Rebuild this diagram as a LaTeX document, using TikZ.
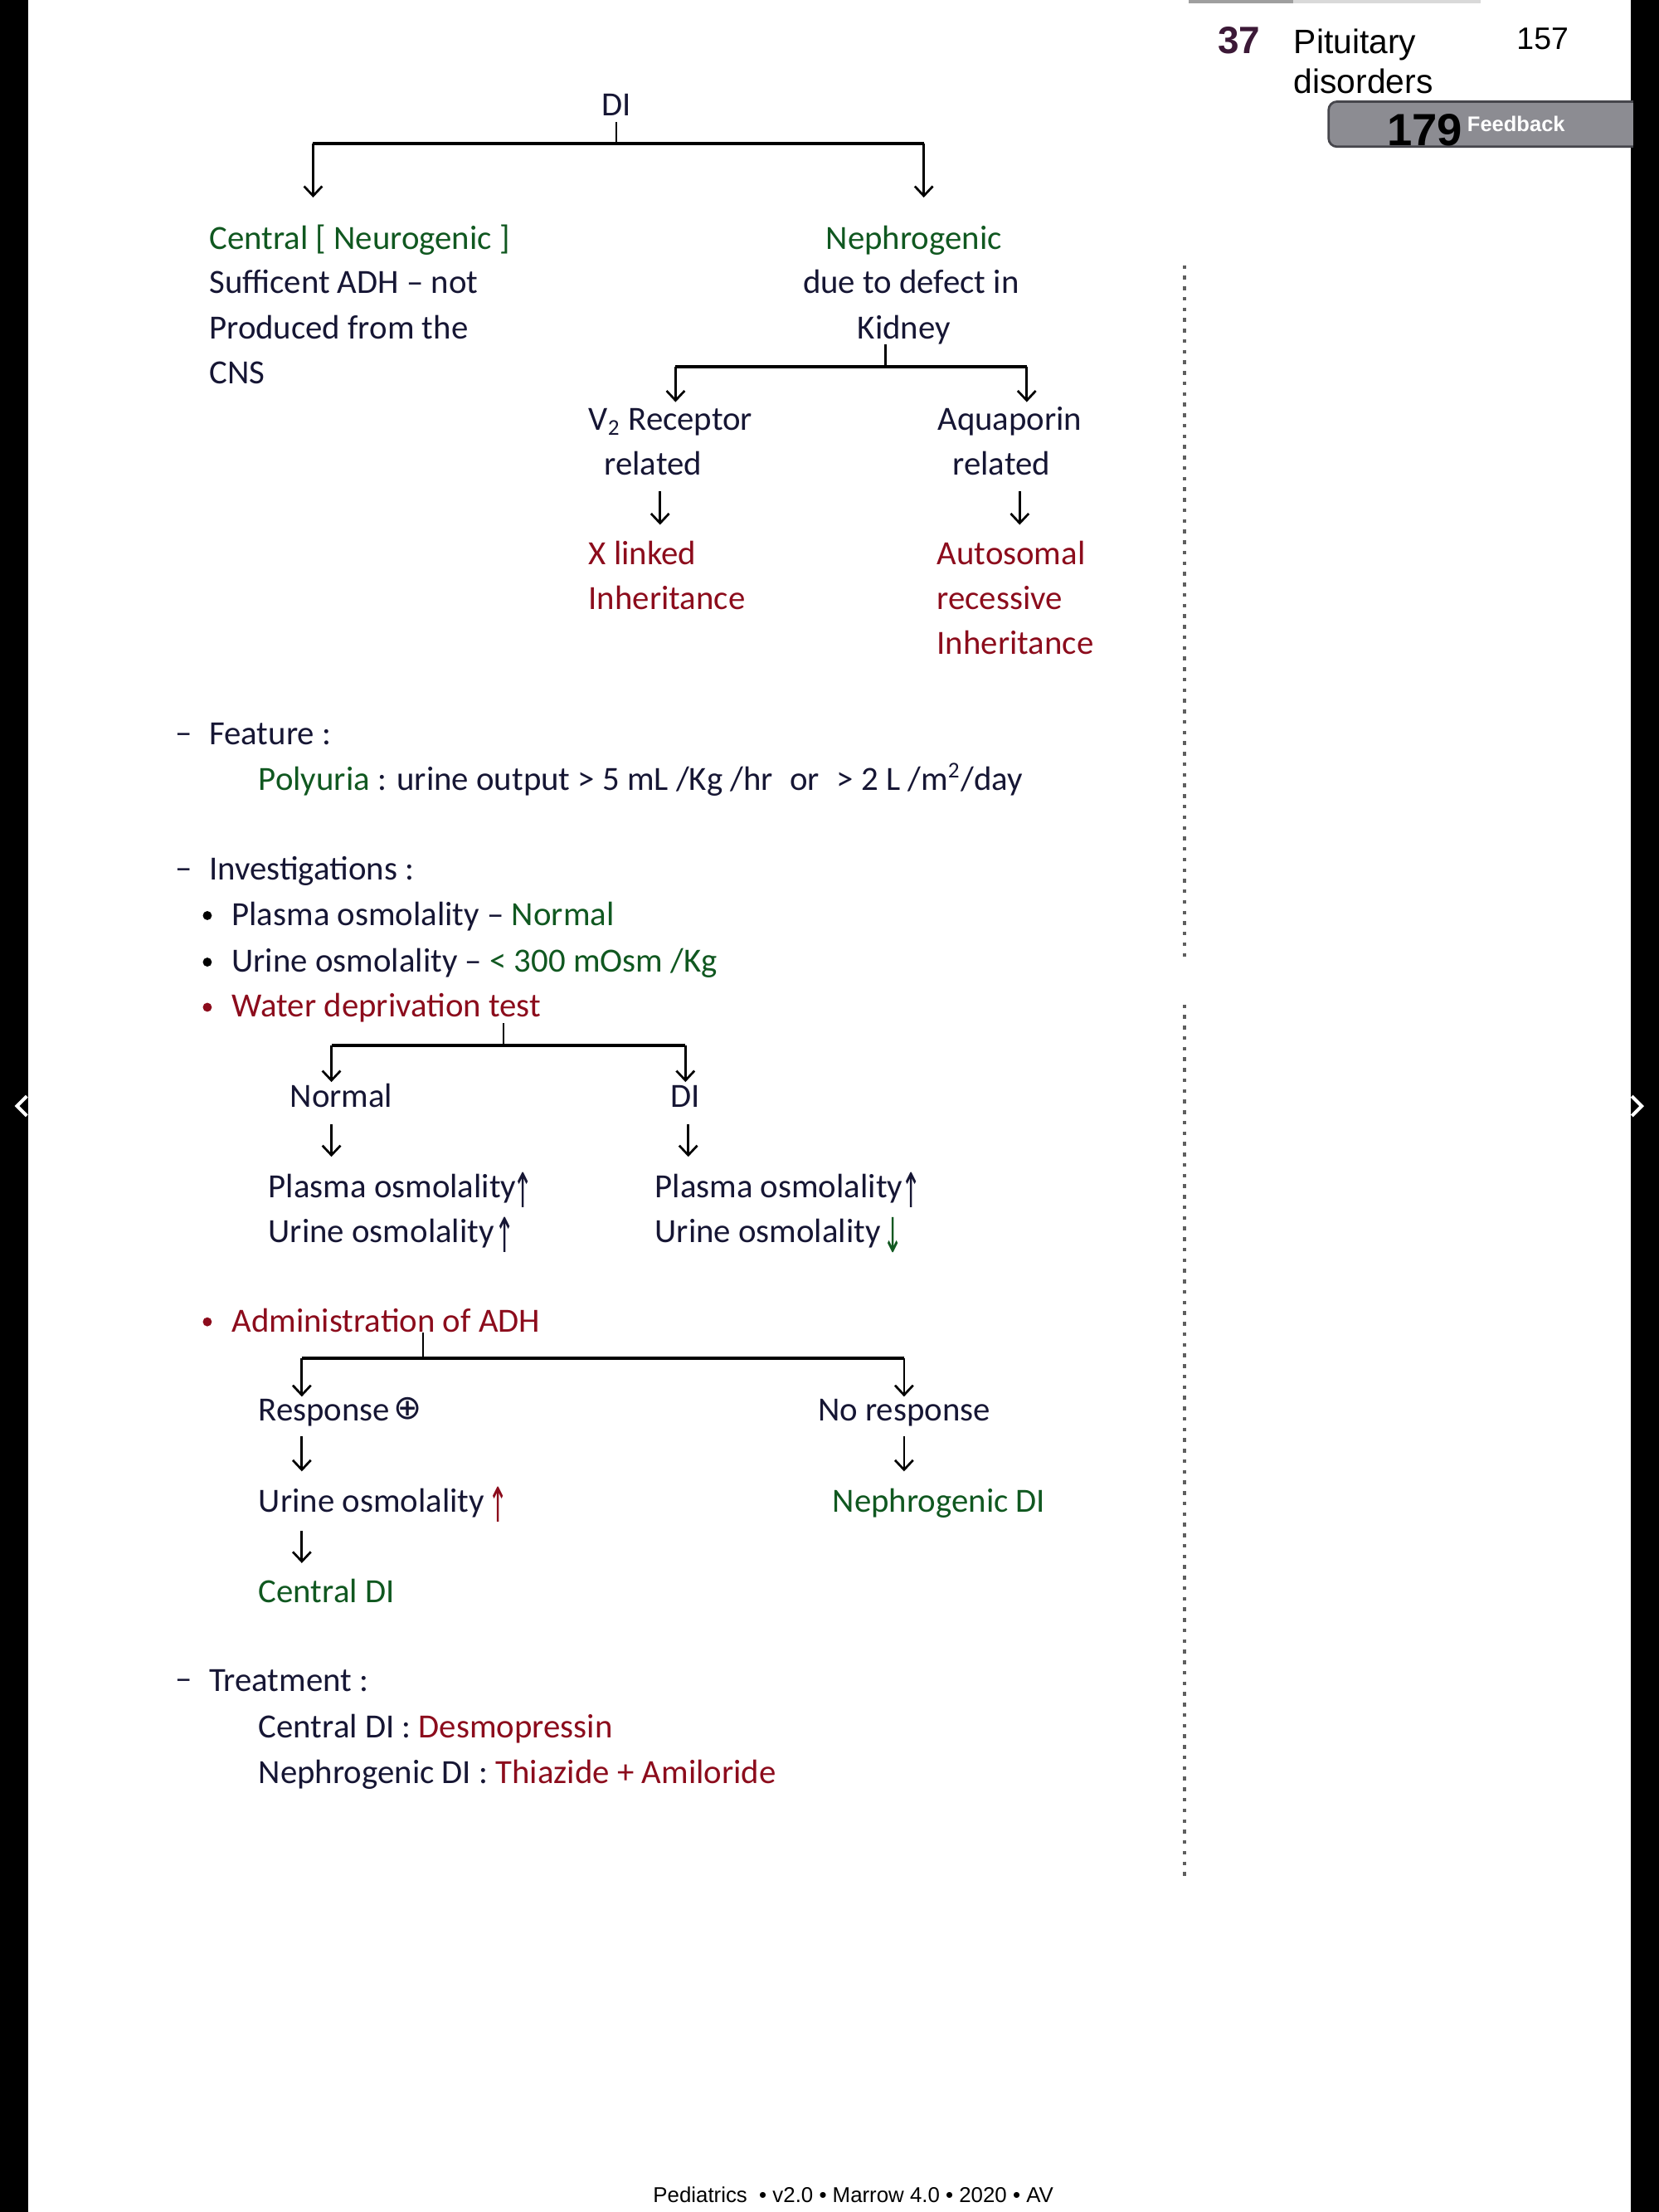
\documentclass[tikz,border=0pt]{standalone}
\usepackage{graphicx}
\usepackage{fontspec}
\setmainfont{Carlito}
\newfontfamily\arialf{Liberation Sans}
\newfontfamily\symf{DejaVu Sans}
\usetikzlibrary{arrows.meta}
\definecolor{ink}{RGB}{22,22,52}
\definecolor{dgrn}{RGB}{16,88,32}
\definecolor{dred}{RGB}{140,12,28}
\definecolor{c37}{RGB}{60,25,55}
\definecolor{fbgray}{RGB}{140,140,146}
\definecolor{fbdark}{RGB}{70,70,76}
\definecolor{dotgray}{RGB}{95,95,95}
\newcommand{\upar}{\scalebox{0.5}[1]{↑}}
\newcommand{\dnar}{\scalebox{0.5}[1]{↓}}
\begin{document}
\begin{tikzpicture}[x=0.5pt,y=-0.5pt,
  hw/.style={inner sep=0pt, font=\fontsize{12}{14}\selectfont, text=ink},
  lw/.style={hw, anchor=base west},
  cw/.style={hw, anchor=base},
  glyph/.style={inner sep=0pt, anchor=base, font=\symf\fontsize{17}{18}\selectfont, text=ink},
  barline/.style={draw=black, line width=1.15pt},
  stem/.style={draw=black, line width=0.8pt},
  arr/.style={draw=black, line width=0.8pt, -{Straight Barb[length=3.4pt,width=6.4pt]}},
  dotline/.style={draw=dotgray, line width=1.3pt, dash pattern=on 1.3pt off 2.45pt},
  hdr/.style={inner sep=0pt, anchor=base west},
]
\useasboundingbox (0,0) rectangle (1176,1568);
\fill[white] (0,0) rectangle (1176,1568);
% side strips
\fill[black] (0,0) rectangle (20,1568);
\fill[black] (1156.5,0) rectangle (1176,1568);
\draw[white, line width=1.2pt] (19,777) -- (12,784) -- (19,791);
\draw[white, line width=1.2pt] (1157,777) -- (1164,784) -- (1157,791);
% top thin bar
\fill[gray!75] (843,0) rectangle (917,2.5);
\fill[gray!30] (917,0) rectangle (1050,2.5);
% header
\node[hdr, font=\arialf\bfseries\fontsize{13.5}{15}\selectfont, text=c37] (ch) at (863,38) {37};
\node[hdr, font=\arialf\fontsize{12}{14}\selectfont] (pit1) at (917,38) {Pituitary};
\node[hdr, font=\arialf\fontsize{12}{14}\selectfont] (pit2) at (917,66) {disorders};
\node[hdr, font=\arialf\fontsize{11}{13}\selectfont] (pg) at (1075,35) {157};
\path[fill=fbgray, draw=fbdark, line width=0.8pt, rounded corners=3pt] (1158,72) -- (942,72) -- (942,104) -- (1158,104);
\node[hdr, font=\arialf\bfseries\fontsize{16}{18}\selectfont] (n179) at (983,103) {179};
\node[hdr, text=white, font=\arialf\bfseries\fontsize{7.5}{9}\selectfont] (fb) at (1040,93) {Feedback};
% dotted divider
\draw[dotline] (840,188) -- (840,678);
\draw[dotline] (840,712) -- (840,1330);

% ---------- DI tree ----------
\node[cw] (di) at (437,82) {DI};
\coordinate (t0) at (437,102);
\coordinate (tL) at (222,102);
\coordinate (tR) at (655,102);
\coordinate (tLe) at (222,140);
\coordinate (tRe) at (655,140);
\draw[stem] ([yshift=-2pt]di.south) -- (t0);
\draw[barline] (tL) -- (tR);
\draw[arr] (tL) -- (tLe);
\draw[arr] (tR) -- (tRe);

\node[lw, text=dgrn] (cen1) at (148,177) {Central [ Neurogenic ]};
\node[lw] (cen2) at (148,208) {Sufficent ADH – not};
\node[lw] (cen3) at (148,240) {Produced from the};
\node[lw] (cen4) at (148,272) {CNS};

\node[cw, text=dgrn] (nep1) at (648,177) {Nephrogenic};
\node[cw] (nep2) at (646,208) {due to defect in};
\node[cw] (nep3) at (641,240) {Kidney};
\coordinate (k0) at (628,260);
\coordinate (kL) at (479,260);
\coordinate (kR) at (728,260);
\coordinate (kLe) at (479,285);
\coordinate (kRe) at (728,285);
\draw[stem] (nep3.south -| k0) -- (k0);
\draw[barline] (kL) -- (kR);
\draw[arr] (kL) -- (kLe);
\draw[arr] (kR) -- (kRe);

\node[lw] (v2a) at (417,305) {V\textsubscript{2} Receptor};
\node[cw] (v2b) at (463,337) {related};
\node[cw] (aq1) at (716,305) {Aquaporin};
\node[cw] (aq2) at (710,337) {related};
\coordinate (va) at (468,372);
\coordinate (aa) at (723,372);
\draw[arr] (va |- 0,348) -- (va);
\draw[arr] (aa |- 0,348) -- (aa);

\node[lw, text=dred] (xl1) at (417,400) {X linked};
\node[lw, text=dred] (xl2) at (417,432) {Inheritance};
\node[lw, text=dred] (ar1) at (664,400) {Autosomal};
\node[lw, text=dred] (ar2) at (664,432) {recessive};
\node[lw, text=dred] (ar3) at (664,464) {Inheritance};

% ---------- Feature ----------
\node[lw] (dash1) at (124,527) {–};
\node[lw] (feat) at (148,528) {Feature :};
\node[lw] (poly) at (183,560) {\textcolor{dgrn}{Polyuria} : urine output > 5 mL /Kg /hr\enspace or\enspace > 2 L /m\textsuperscript{2}/day};

% ---------- Investigations ----------
\node[lw] (dash2) at (124,623) {–};
\node[lw] (inv) at (148,624) {Investigations :};
\fill[black] (147,649) circle (1.6pt);
\node[lw] (pl) at (164,656) {Plasma osmolality – \textcolor{dgrn}{Normal}};
\fill[black] (147,682) circle (1.6pt);
\node[lw] (ur) at (164,689) {Urine osmolality – \textcolor{dgrn}{< 300 mOsm /Kg}};
\fill[dred] (147,714) circle (1.6pt);
\node[lw, text=dred] (wdt) at (164,721) {Water deprivation test};

\coordinate (w0) at (357,741);
\coordinate (wL) at (235,741);
\coordinate (wR) at (486,741);
\coordinate (wLe) at (235,767);
\coordinate (wRe) at (486,767);
\draw[stem] (wdt.south -| w0) -- (w0);
\draw[barline] (wL) -- (wR);
\draw[arr] (wL) -- (wLe);
\draw[arr] (wR) -- (wRe);

\node[cw] (nm) at (242,785) {Normal};
\node[cw] (dw) at (486,785) {DI};
\coordinate (nma) at (235,820);
\coordinate (dwa) at (488,820);
\draw[arr] (nma |- 0,797) -- (nma);
\draw[arr] (dwa |- 0,797) -- (dwa);

\node[lw] (np1) at (190,849) {Plasma osmolality};
\node[glyph] (np1a) at (371,856) {\upar};
\node[lw] (np2) at (190,881) {Urine osmolality};
\node[glyph] (np2a) at (358,888) {\upar};
\node[lw] (dp1) at (464,849) {Plasma osmolality};
\node[glyph] (dp1a) at (646,856) {\upar};
\node[lw] (dp2) at (464,881) {Urine osmolality};
\node[glyph, text=dgrn] (dp2a) at (633,888) {\dnar};

% ---------- ADH ----------
\fill[dred] (147,937) circle (1.6pt);
\node[lw, text=dred] (adh) at (164,944) {Administration of ADH};
\coordinate (a0) at (300,963);
\coordinate (aL) at (214,963);
\coordinate (aR) at (641,963);
\coordinate (aLe) at (214,990);
\coordinate (aRe) at (641,990);
\draw[stem] (adh.south -| a0) -- (a0);
\draw[barline] (aL) -- (aR);
\draw[arr] (aL) -- (aLe);
\draw[arr] (aR) -- (aRe);

\node[lw] (resp) at (183,1007) {Response};
\node[glyph, font=\symf\fontsize{12}{14}\selectfont] (plus) at (289,1006) {⊕};
\node[cw] (nores) at (641,1007) {No response};
\coordinate (r1) at (214,1043);
\coordinate (r2) at (641,1043);
\draw[arr] (r1 |- 0,1018) -- (r1);
\draw[arr] (r2 |- 0,1018) -- (r2);

\node[lw] (uo) at (183,1072) {Urine osmolality};
\node[glyph, text=dred] (uoa) at (353,1079) {\upar};
\node[lw, text=dgrn] (ndi) at (590,1072) {Nephrogenic DI};
\coordinate (r3) at (214,1108);
\draw[arr] (r3 |- 0,1085) -- (r3);
\node[lw, text=dgrn] (cdi) at (183,1136) {Central DI};

% ---------- Treatment ----------
\node[lw] (dash3) at (124,1198) {–};
\node[lw] (trt) at (148,1199) {Treatment :};
\node[lw] (tr1) at (183,1232) {Central DI : \textcolor{dred}{Desmopressin}};
\node[lw] (tr2) at (183,1264) {Nephrogenic DI : \textcolor{dred}{Thiazide + Amiloride}};

% footer
\node[inner sep=0pt, anchor=base, font=\arialf\fontsize{7.6}{9}\selectfont] (foot) at (605,1561) {Pediatrics \ • v2.0 • Marrow 4.0 • 2020 • AV};
\end{tikzpicture}
\end{document}
